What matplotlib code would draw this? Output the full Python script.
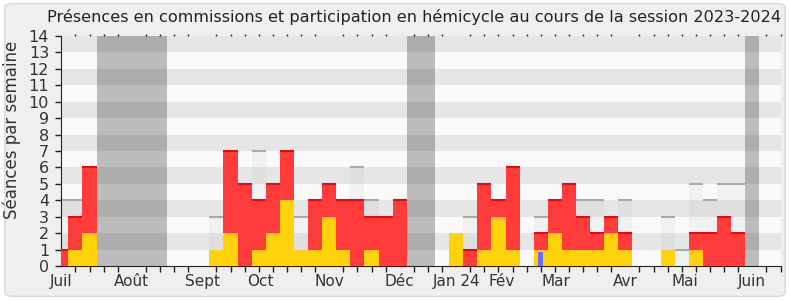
import matplotlib
matplotlib.use("Agg")
import matplotlib.pyplot as plt
from matplotlib.patches import FancyBboxPatch
import numpy as np

# one value per week of the session, week 0 = first week of July 2023
hemicycle = [4, 4, 0, 0, 0, 0, 0, 0, 0, 0, 0, 3, 0, 0, 7, 0, 0, 3, 0, 0,
             0, 6, 4, 0, 0, 0, 0, 0, 0, 3, 0, 0, 0, 0, 3, 0, 0, 4, 4, 0,
             4, 0, 0, 3, 1, 5, 4, 5, 5, 0, 0, 0]
participation = [1, 3, 6, 0, 0, 0, 0, 0, 0, 0, 0, 0, 7, 5, 4, 5, 7, 0, 4, 5,
                 4, 4, 3, 3, 4, 0, 0, 0, 0, 1, 5, 4, 6, 0, 2, 4, 5, 3, 2, 3,
                 2, 0, 0, 0, 0, 2, 2, 3, 2, 0, 0, 0]
commission = [0, 1, 2, 0, 0, 0, 0, 0, 0, 0, 0, 1, 2, 0, 1, 2, 4, 1, 1, 3,
              1, 0, 1, 0, 0, 0, 0, 0, 2, 0, 1, 3, 1, 0, 1, 2, 1, 1, 1, 2,
              1, 0, 0, 1, 0, 1, 0, 0, 0, 0, 0, 0]
questions = [0] * 52
questions[34] = 0.85

vacances = [(2.5, 7.5), (24.5, 26.5), (48.5, 49.5)]
mois = ["Juil", "Août", "Sept", "Oct", "Nov", "Déc", "Jan 24", "Fév", "Mar", "Avr", "Mai", "Juin"]
mois_pos = [0, 5, 10, 14.1, 19, 24, 28, 31.2, 35.1, 40, 44.2, 49]

semaines = np.arange(len(participation))
hemi = np.array(hemicycle, dtype=float)
part = np.array(participation, dtype=float)

fig = plt.figure(figsize=(7.9, 3.0), dpi=100)
fig.patch.set_facecolor("white")
fig.patches.append(FancyBboxPatch((0.006, 0.012), 0.988, 0.976, boxstyle="round,pad=0,rounding_size=0.012",
                                  transform=fig.transFigure, facecolor="#efefef", edgecolor="#d9d9d9",
                                  linewidth=1, zorder=-10))

ax = fig.add_axes([61.3 / 790, 1 - 266 / 300, 719.2 / 790, 230 / 300])
ax.set_facecolor("#fafafa")

# vacances, puis bandes horizontales
for a, b in vacances:
    ax.axvspan(a, b, color="#bcbcbc", lw=0, zorder=0)
for y in range(1, 14, 2):
    ax.axhspan(y, y + 1, color="black", alpha=0.08, lw=0, zorder=1)

ax.bar(semaines, hemi, width=1, color="#b0b0b0", alpha=0.12, lw=0, zorder=2)
m = hemi > 0
ax.hlines(hemi[m], semaines[m] - 0.5, semaines[m] + 0.5, color="#aaaaaa", lw=1.5, zorder=2)
ax.bar(semaines, part, width=1, color="#ff3b3b", lw=0, zorder=3)
m = part > 0
ax.hlines(part[m], semaines[m] - 0.5, semaines[m] + 0.5, color="#ff0000", lw=1.5, zorder=3)
ax.bar(semaines, commission, width=1, color="#ffd20a", lw=0, zorder=4)
ax.bar(semaines, questions, width=0.35, color="#6a6aff", lw=0, zorder=5)

ax.set_xlim(0, 51)
ax.set_ylim(0, 14)
ax.set_yticks(range(15))
ax.set_xticks(mois_pos)
ax.set_xticklabels(mois)
ax.set_xticks(semaines, minor=True)
ax.tick_params(axis="x", which="major", length=0, labelsize=11, colors="#333333", pad=6)
ax.tick_params(axis="x", which="minor", length=4, width=1, color="#222222", top=True)
ax.tick_params(axis="y", length=4.3, width=1, color="#222222", labelsize=11.5, labelcolor="#333333", pad=4.5)
for t in ax.xaxis.get_minor_ticks():
    t.tick2line.set_markersize(1.5)

for s in ["top", "right"]:
    ax.spines[s].set_visible(False)
ax.spines["left"].set_color("#222222")
ax.spines["bottom"].set_color("#222222")

fig.text(12 / 790, 0.5 + 20 / 300, "Séances par semaine", rotation=90, fontsize=12, color="#333333",
         ha="center", va="center")
fig.text(414 / 790, 1 - 17 / 300, "Présences en commissions et participation en hémicycle au cours de la session 2023-2024",
         fontsize=11.6, color="#222222", ha="center", va="center")

fig.savefig("out.png", dpi=100, facecolor=fig.get_facecolor())
